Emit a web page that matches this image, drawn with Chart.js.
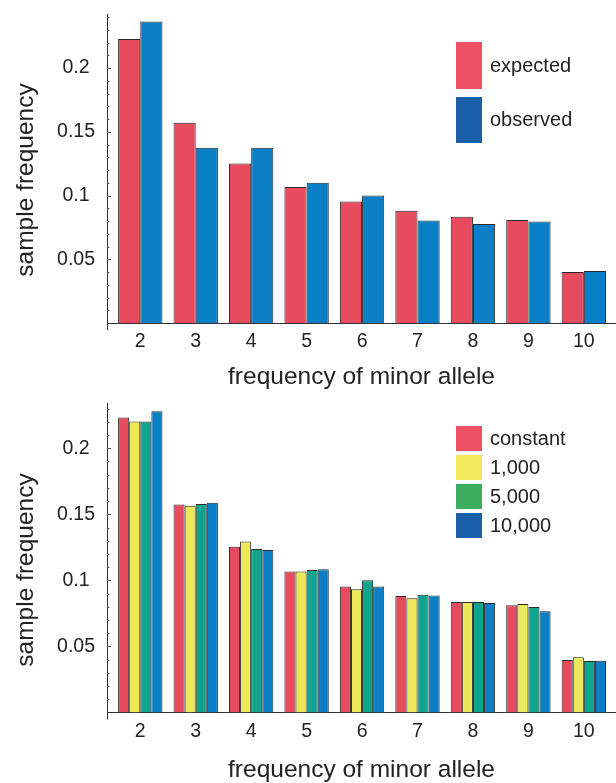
<!DOCTYPE html>
<html>
<head>
<meta charset="utf-8">
<script src="https://cdn.jsdelivr.net/npm/chart.js@4"></script>
<style>
    body { margin: 0; background: #fff; width: 616px; height: 783px; position: relative; overflow: hidden;
           font-family: "Liberation Sans", Arial, sans-serif; color: #222; }
    canvas { position: absolute; left: 0; }
    .ytitle { position: absolute; font-size: 24.5px; white-space: nowrap; transform: translate(-50%, -50%) rotate(-90deg); }
    .legend { position: absolute; left: 456px; }
    .legend .box { position: absolute; left: 0; width: 26px; }
    .legend .lbl { position: absolute; left: 34px; font-size: 20px; line-height: 20px; white-space: nowrap; }
</style>
</head>
<body>
<canvas id="chartTop" width="616" height="395" style="top:0px"></canvas>
<canvas id="chartBottom" width="616" height="395" style="top:388px"></canvas>
<div class="ytitle" style="left:25px; top:180px">sample frequency</div>
<div class="ytitle" style="left:25px; top:570px">sample frequency</div>
<div class="legend" id="legendTop" style="top:0px"></div>
<div class="legend" id="legendBottom" style="top:0px"></div>
<script>
// minor allele count (x axis)
const categories = [2, 3, 4, 5, 6, 7, 8, 9, 10];

// top panel
const expected = [0.2227, 0.1570, 0.1252, 0.1067, 0.0954, 0.0881, 0.0834, 0.0808, 0.0400];
const observed = [0.2365, 0.1375, 0.1375, 0.1100, 0.1001, 0.0805, 0.0776, 0.0797, 0.0408];

// bottom panel
const constant = [0.2233, 0.1575, 0.1254, 0.1068, 0.0954, 0.0881, 0.0836, 0.0811, 0.0397];
const pop1000 = [0.2203, 0.1565, 0.1295, 0.1068, 0.0932, 0.0864, 0.0836, 0.0821, 0.0418];
const pop5000 = [0.2203, 0.1577, 0.1237, 0.1078, 0.1000, 0.0891, 0.0836, 0.0798, 0.0390];
const pop10000 = [0.2280, 0.1587, 0.1229, 0.1085, 0.0954, 0.0886, 0.0828, 0.0766, 0.0392];

const yTicks = [0.05, 0.1, 0.15, 0.2];

Chart.defaults.font.family = '"Liberation Sans", Arial, sans-serif';
Chart.defaults.color = '#222';

function points(values) {
    return values.map((v, i) => ({x: categories[i], y: v}));
}

// small inward ticks on the y axis every 0.01, like the printed figure
const axisDecor = {
    id: 'axisDecor',
    afterDraw(chart) {
        const ctx = chart.ctx;
        const y = chart.scales.y;
        const area = chart.chartArea;
        ctx.save();
        ctx.strokeStyle = '#555';
        ctx.lineWidth = 1;
        ctx.beginPath();
        for (let k = 1; k / 100 < y.max; k++) {
            const py = Math.round(y.getPixelForValue(k / 100)) + 0.5;
            const len = (k % 5 === 0) ? 4 : 2.5;
            ctx.moveTo(area.left, py);
            ctx.lineTo(area.left + len, py);
        }
        ctx.stroke();
        ctx.strokeStyle = '#333';
        ctx.beginPath();
        ctx.moveTo(area.left + 0.5, area.bottom);
        ctx.lineTo(area.left + 0.5, area.bottom + 7);
        ctx.stroke();
        ctx.restore();
    }
};

function makeChart(id, datasets, yMax, padTop, xHeight, titlePad) {
    return new Chart(document.getElementById(id), {
        type: 'bar',
        data: {datasets: datasets},
        plugins: [axisDecor],
        options: {
            responsive: false,
            animation: false,
            layout: {padding: {top: padTop, left: 0, right: 0, bottom: 0}},
            plugins: {legend: {display: false}, tooltip: {enabled: false}},
            datasets: {bar: {categoryPercentage: 0.8, barPercentage: 1.0, borderWidth: 1, borderColor: '#2a2a2a'}},
            scales: {
                x: {
                    type: 'linear',
                    min: 1.4,
                    max: 10.58,
                    offset: false,
                    grid: {display: false, drawTicks: false},
                    border: {display: true, color: '#333', width: 1},
                    ticks: {
                        stepSize: 1,
                        includeBounds: false,
                        padding: 7,
                        font: {size: 19.5},
                        callback: (v) => categories.includes(v) ? String(v) : ''
                    },
                    title: {
                        display: true,
                        text: 'frequency of minor allele',
                        font: {size: 24.5, lineHeight: 1},
                        padding: {top: 0, bottom: titlePad}
                    },
                    afterFit: (s) => { s.height = xHeight; s.paddingLeft = 0; s.paddingRight = 0; }
                },
                y: {
                    min: 0,
                    max: yMax,
                    grid: {display: false, drawTicks: false},
                    border: {display: true, color: '#333', width: 1},
                    afterBuildTicks: (s) => { s.ticks = yTicks.map(v => ({value: v})); },
                    ticks: {
                        padding: 12,
                        crossAlign: 'center',
                        font: {size: 19.5},
                        callback: (v) => String(v)
                    },
                    afterFit: (s) => { s.width = 107; s.paddingTop = 0; s.paddingBottom = 0; }
                }
            }
        }
    });
}

function makeLegend(id, items) {
    const div = document.getElementById(id);
    items.forEach((it) => {
        const box = document.createElement('div');
        box.className = 'box';
        box.style.top = it.top + 'px';
        box.style.height = it.h + 'px';
        box.style.background = it.color;
        div.appendChild(box);
        const lbl = document.createElement('div');
        lbl.className = 'lbl';
        lbl.style.top = (it.top + it.h / 2 - 11) + 'px';
        lbl.textContent = it.label;
        div.appendChild(lbl);
    });
}

const red = '#e84b5d';
const blue = '#0a7fc6';
const yellow = '#ece85a';
const teal = '#0ea48e';

makeChart('chartTop', [
    {label: 'expected', data: points(expected), backgroundColor: red},
    {label: 'observed', data: points(observed), backgroundColor: blue}
], 0.2424, 14, 72, 6);

makeChart('chartBottom', [
    {label: 'constant', data: points(constant), backgroundColor: red},
    {label: '1,000', data: points(pop1000), backgroundColor: yellow},
    {label: '5,000', data: points(pop5000), backgroundColor: teal},
    {label: '10,000', data: points(pop10000), backgroundColor: blue}
], 0.234, 15.3, 70.5, 1);

makeLegend('legendTop', [
    {label: 'expected', color: '#ec5264', top: 42, h: 47},
    {label: 'observed', color: '#1b5fab', top: 97, h: 46}
]);

makeLegend('legendBottom', [
    {label: 'constant', color: '#ec5264', top: 426, h: 25},
    {label: '1,000', color: '#f2ea5c', top: 455, h: 25},
    {label: '5,000', color: '#3bad5c', top: 484, h: 25},
    {label: '10,000', color: '#1b5fab', top: 513, h: 25}
]);
</script>
</body>
</html>
